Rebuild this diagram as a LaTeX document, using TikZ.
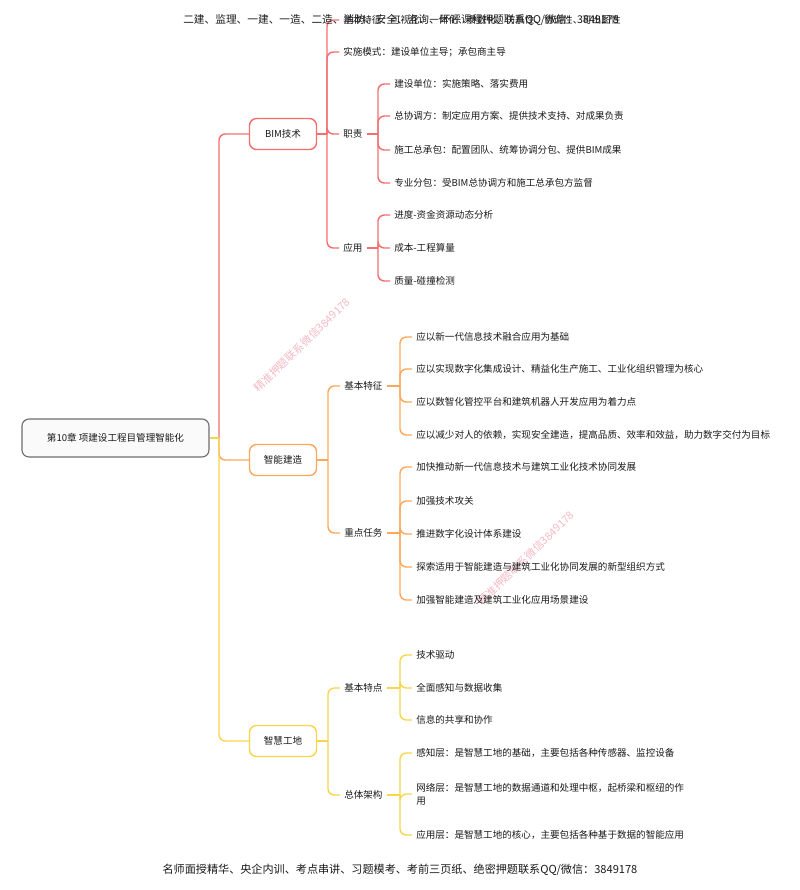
\documentclass[tikz,border=0pt]{standalone}
\usepackage{fontspec}
\newfontfamily\cjk{Noto Sans CJK SC}
\usetikzlibrary{positioning}
\definecolor{bimred}{HTML}{F36F6F}
\definecolor{znorange}{HTML}{FBA85C}
\definecolor{zhyellow}{HTML}{F7D64C}
\definecolor{rootline}{HTML}{6E6E6E}
\definecolor{rootfill}{HTML}{FAFAFA}
\definecolor{ink}{HTML}{1A1A1A}
\definecolor{wmpink}{HTML}{F3B9C3}
\tikzset{
  % ---- boxes -----------------------------------------------------
  rootbox/.style  = {rounded corners=5pt, draw=rootline, fill=rootfill,
                     line width=.8pt, minimum width=4.675cm,
                     minimum height=.95cm, font=\cjk\fontsize{6.8}{9}\selectfont,
                     text=ink},
  topic/.style    = {rounded corners=5pt, fill=white, line width=1pt,
                     minimum width=1.675cm, minimum height=.775cm,
                     font=\cjk\fontsize{6.8}{9}\selectfont, text=ink},
  item/.style     = {anchor=west, inner xsep=.1cm, inner ysep=1pt,
                     align=left, text=ink,
                     font=\cjk\fontsize{6.8}{9.4}\selectfont},
  % ---- connectors ------------------------------------------------
  bimln/.style    = {draw=bimred, line width=1pt},
  znln/.style     = {draw=znorange, line width=1pt},
  zhln/.style     = {draw=zhyellow, line width=1pt},
  elbow/.style    = {rounded corners=4.5pt},
  % ---- page texts ------------------------------------------------
  pagetxt/.style  = {text=ink, font=\cjk\fontsize{7.6}{9}\selectfont},
  wmark/.style    = {text=wmpink, rotate=44,
                     font=\cjk\fontsize{7.7}{9}\selectfont},
}

\begin{document}
\begin{tikzpicture}[x=0.025cm,y=-0.025cm]
  \useasboundingbox (0,0) rectangle (800,890);
  % watermarks
  \node[wmark] (wm1) at (302,345) {精准押题联系微信3849178};
  \node[wmark] (wm2) at (526,558) {精准押题联系微信3849178};
  % root and main topics
  \node[rootbox] (root) at (115.5,438) {第10章 项建设工程目管理智能化};
  \node[topic, draw=bimred] (bim) at (283,134) {BIM技术};
  \node[topic, draw=znorange] (zn) at (283,460) {智能建造};
  \node[topic, draw=zhyellow] (zh) at (283,741) {智慧工地};
  \coordinate (jR) at (219,438);
  \draw[bimln] (root.east) -- (jR);
  \draw[bimln,elbow] (jR) |- (bim.west);
  \draw[znln] (root.east) -- (jR);
  \draw[znln,elbow] (jR) |- (zn.west);
  \draw[zhln] (root.east) -- (jR);
  \draw[zhln,elbow] (jR) |- (zh.west);
  % ---- BIM技术 ----
  \node[item] (bTz) at (339,20) {基本特征：可视化、一体化、参数化、仿真性、协调性、可出图性};
  \node[item] (bMs) at (339,52) {实施模式：建设单位主导；承包商主导};
  \node[item] (bZz) at (339,134) {职责};
  \node[item] (bYy) at (339,248) {应用};
  \coordinate (jB) at (327,134);
  \draw[bimln] (bim.east) -- (jB);
  \draw[bimln,elbow] (jB) |- (bTz.west);
  \draw[bimln,elbow] (jB) |- (bMs.west);
  \draw[bimln,elbow] (jB) |- (bZz.west);
  \draw[bimln,elbow] (jB) |- (bYy.west);
  \node[item] (zz1) at (390,84) {建设单位：实施策略、落实费用};
  \node[item] (zz2) at (390,116) {总协调方：制定应用方案、提供技术支持、对成果负责};
  \node[item] (zz3) at (390,150) {施工总承包：配置团队、统筹协调分包、提供BIM成果};
  \node[item] (zz4) at (390,183) {专业分包：受BIM总协调方和施工总承包方监督};
  \coordinate (jZz) at (378,134);
  \draw[bimln] (bZz.east) -- (jZz);
  \draw[bimln,elbow] (jZz) |- (zz1.west);
  \draw[bimln,elbow] (jZz) |- (zz2.west);
  \draw[bimln,elbow] (jZz) |- (zz3.west);
  \draw[bimln,elbow] (jZz) |- (zz4.west);
  \node[item] (yy1) at (390,215) {进度-资金资源动态分析};
  \node[item] (yy2) at (390,248) {成本-工程算量};
  \node[item] (yy3) at (390,281) {质量-碰撞检测};
  \coordinate (jYy) at (378,248);
  \draw[bimln] (bYy.east) -- (jYy);
  \draw[bimln,elbow] (jYy) |- (yy1.west);
  \draw[bimln,elbow] (jYy) |- (yy2.west);
  \draw[bimln,elbow] (jYy) |- (yy3.west);
  % ---- 智能建造 ----
  \node[item] (nTz) at (340,386) {基本特征};
  \node[item] (nRw) at (340,533) {重点任务};
  \coordinate (jN) at (328,460);
  \draw[znln] (zn.east) -- (jN);
  \draw[znln,elbow] (jN) |- (nTz.west);
  \draw[znln,elbow] (jN) |- (nRw.west);
  \node[item] (tz1) at (412,337) {应以新一代信息技术融合应用为基础};
  \node[item] (tz2) at (412,369) {应以实现数字化集成设计、精益化生产施工、工业化组织管理为核心};
  \node[item] (tz3) at (412,402) {应以数智化管控平台和建筑机器人开发应用为着力点};
  \node[item] (tz4) at (412,435) {应以减少对人的依赖，实现安全建造，提高品质、效率和效益，助力数字交付为目标};
  \coordinate (jTz) at (400,386);
  \draw[znln] (nTz.east) -- (jTz);
  \draw[znln,elbow] (jTz) |- (tz1.west);
  \draw[znln,elbow] (jTz) |- (tz2.west);
  \draw[znln,elbow] (jTz) |- (tz3.west);
  \draw[znln,elbow] (jTz) |- (tz4.west);
  \node[item] (rw1) at (412,467) {加快推动新一代信息技术与建筑工业化技术协同发展};
  \node[item] (rw2) at (412,501) {加强技术攻关};
  \node[item] (rw3) at (412,534) {推进数字化设计体系建设};
  \node[item] (rw4) at (412,567) {探索适用于智能建造与建筑工业化协同发展的新型组织方式};
  \node[item] (rw5) at (412,600) {加强智能建造及建筑工业化应用场景建设};
  \coordinate (jRw) at (400,533);
  \draw[znln] (nRw.east) -- (jRw);
  \draw[znln,elbow] (jRw) |- (rw1.west);
  \draw[znln,elbow] (jRw) |- (rw2.west);
  \draw[znln,elbow] (jRw) |- (rw3.west);
  \draw[znln,elbow] (jRw) |- (rw4.west);
  \draw[znln,elbow] (jRw) |- (rw5.west);
  % ---- 智慧工地 ----
  \node[item] (hTd) at (340,688) {基本特点};
  \node[item] (hJg) at (340,795) {总体架构};
  \coordinate (jH) at (328,741);
  \draw[zhln] (zh.east) -- (jH);
  \draw[zhln,elbow] (jH) |- (hTd.west);
  \draw[zhln,elbow] (jH) |- (hJg.west);
  \node[item] (td1) at (412,655) {技术驱动};
  \node[item] (td2) at (412,688) {全面感知与数据收集};
  \node[item] (td3) at (412,720) {信息的共享和协作};
  \coordinate (jTd) at (400,688);
  \draw[zhln] (hTd.east) -- (jTd);
  \draw[zhln,elbow] (jTd) |- (td1.west);
  \draw[zhln,elbow] (jTd) |- (td2.west);
  \draw[zhln,elbow] (jTd) |- (td3.west);
  \node[item] (jg1) at (412,753) {感知层：是智慧工地的基础，主要包括各种传感器、监控设备};
  \node[item] (jg2) at (412,794) {网络层：是智慧工地的数据通道和处理中枢，起桥梁和枢纽的作\\用};
  \node[item] (jg3) at (412,835) {应用层：是智慧工地的核心，主要包括各种基于数据的智能应用};
  \coordinate (jJg) at (400,795);
  \draw[zhln] (hJg.east) -- (jJg);
  \draw[zhln,elbow] (jJg) |- (jg1.west);
  \draw[zhln,elbow] (jJg) |- (jg2.west);
  \draw[zhln,elbow] (jJg) |- (jg3.west);
  % page header and footer
  \node[pagetxt] (head) at (401,20) {二建、监理、一建、一造、二造、消防、安全、咨询、环评课程押题联系QQ/微信：3849178};
  \node[pagetxt, font=\cjk\fontsize{7.9}{9}\selectfont] (foot) at (400,870) {名师面授精华、央企内训、考点串讲、习题模考、考前三页纸、绝密押题联系QQ/微信：3849178};
\end{tikzpicture}
\end{document}
